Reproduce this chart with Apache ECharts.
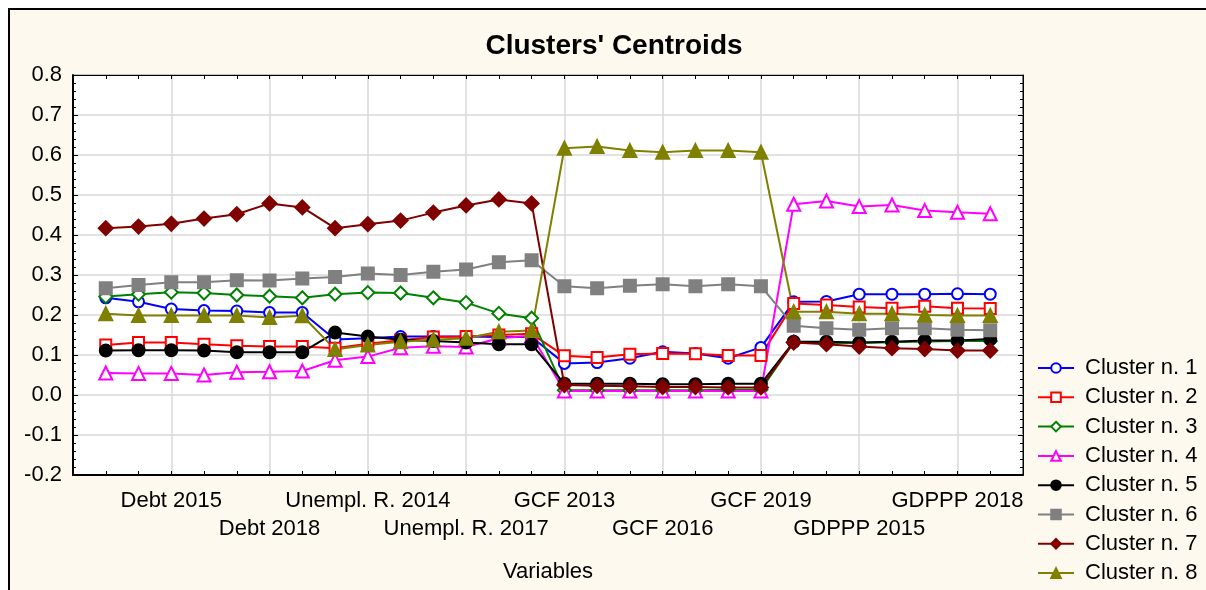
<!DOCTYPE html>
<html>
<head>
<meta charset="utf-8">
<script src="https://cdn.jsdelivr.net/npm/echarts@6/dist/echarts.min.js"></script>
<style>
  html, body { margin: 0; padding: 0; background: #fff; }
  #chart { width: 1206px; height: 590px; }
</style>
</head>
<body>
<div id="chart"></div>
<script>
  const VARIABLES = [
    'Debt 2013', 'Debt 2014', 'Debt 2015', 'Debt 2016', 'Debt 2017', 'Debt 2018', 'Debt 2019',
    'Unempl. R. 2013', 'Unempl. R. 2014', 'Unempl. R. 2015', 'Unempl. R. 2016', 'Unempl. R. 2017', 'Unempl. R. 2018', 'Unempl. R. 2019',
    'GCF 2013', 'GCF 2014', 'GCF 2015', 'GCF 2016', 'GCF 2017', 'GCF 2018', 'GCF 2019',
    'GDPPP 2013', 'GDPPP 2014', 'GDPPP 2015', 'GDPPP 2016', 'GDPPP 2017', 'GDPPP 2018', 'GDPPP 2019'
  ]
  const CLUSTER_NAMES = ['Cluster n. 1', 'Cluster n. 2', 'Cluster n. 3', 'Cluster n. 4',
    'Cluster n. 5', 'Cluster n. 6', 'Cluster n. 7', 'Cluster n. 8']

  const C1 = [0.243, 0.233, 0.215, 0.211, 0.21, 0.206, 0.206, 0.139, 0.142, 0.146, 0.146, 0.146, 0.145, 0.145,
    0.079, 0.081, 0.092, 0.108, 0.104, 0.092, 0.119, 0.233, 0.234, 0.252, 0.252, 0.252, 0.253, 0.252]
  const C2 = [0.125, 0.131, 0.131, 0.127, 0.123, 0.121, 0.121, 0.117, 0.128, 0.137, 0.145, 0.146, 0.15, 0.153,
    0.098, 0.094, 0.102, 0.104, 0.103, 0.099, 0.099, 0.229, 0.225, 0.22, 0.217, 0.222, 0.217, 0.216]
  const C3 = [0.246, 0.252, 0.257, 0.255, 0.25, 0.247, 0.243, 0.252, 0.256, 0.255, 0.243, 0.231, 0.204, 0.192,
    0.012, 0.012, 0.012, 0.012, 0.012, 0.013, 0.013, 0.132, 0.13, 0.13, 0.132, 0.134, 0.135, 0.135]
  const C4 = [0.055, 0.054, 0.054, 0.05, 0.057, 0.058, 0.06, 0.087, 0.096, 0.118, 0.122, 0.12, 0.142, 0.148,
    0.01, 0.01, 0.01, 0.01, 0.01, 0.01, 0.01, 0.477, 0.485, 0.471, 0.475, 0.461, 0.457, 0.453]
  const C5 = [0.111, 0.112, 0.112, 0.111, 0.107, 0.107, 0.107, 0.156, 0.146, 0.138, 0.135, 0.131, 0.127, 0.127,
    0.028, 0.028, 0.028, 0.027, 0.027, 0.028, 0.028, 0.133, 0.133, 0.131, 0.133, 0.136, 0.136, 0.14]
  const C6 = [0.267, 0.275, 0.282, 0.282, 0.287, 0.286, 0.291, 0.295, 0.304, 0.3, 0.308, 0.314, 0.332, 0.337,
    0.272, 0.267, 0.273, 0.277, 0.272, 0.277, 0.272, 0.173, 0.167, 0.163, 0.167, 0.167, 0.163, 0.162]
  const C7 = [0.417, 0.421, 0.428, 0.441, 0.452, 0.479, 0.469, 0.417, 0.427, 0.436, 0.456, 0.474, 0.489, 0.479,
    0.025, 0.023, 0.022, 0.02, 0.02, 0.019, 0.019, 0.131, 0.127, 0.121, 0.117, 0.115, 0.111, 0.111]
  const C8 = [0.203, 0.199, 0.199, 0.199, 0.199, 0.194, 0.198, 0.114, 0.125, 0.133, 0.138, 0.142, 0.158, 0.161,
    0.617, 0.621, 0.611, 0.607, 0.611, 0.611, 0.607, 0.208, 0.208, 0.203, 0.203, 0.2, 0.199, 0.199]

  const CLUSTERS = [C1, C2, C3, C4, C5, C6, C7, C8]
  const COLORS = ['#0000ff', '#ff0000', '#008000', '#ff00ff', '#000000', '#808080', '#800000', '#808000']
  const SYMBOLS = ['emptyCircle', 'emptyRect', 'emptyDiamond', 'emptyTriangle', 'circle', 'rect', 'diamond', 'triangle']
  const SIZES = [11, 11, 13, 13, 12, 12, 14, 13]

  // blank categories at both ends give the padding seen on the plot
  const AXIS_CATS = [''].concat(VARIABLES, [' '])
  const isLabeled = (idx) => idx >= 1 && idx <= VARIABLES.length && (idx - 1) % 3 === 2
  // labels alternate between two rows
  const isRow1 = (idx) => isLabeled(idx) && ((idx - 3) / 3) % 2 === 0
  const isRow2 = (idx) => isLabeled(idx) && ((idx - 3) / 3) % 2 === 1
  const FONT = 'Arial, "Liberation Sans", sans-serif'

  const series = CLUSTERS.map((vals, k) => ({
    name: CLUSTER_NAMES[k],
    type: 'line',
    xAxisIndex: 0,
    yAxisIndex: 0,
    data: vals.map((v, i) => [VARIABLES[i], v]),
    symbol: SYMBOLS[k],
    symbolSize: SIZES[k],
    showAllSymbol: true,
    color: COLORS[k],
    itemStyle: { color: COLORS[k], borderColor: COLORS[k], borderWidth: 2 },
    lineStyle: { color: COLORS[k], width: 2 },
    emphasis: { disabled: true },
    animation: false
  }))

  const labelStyle = { fontFamily: FONT, fontSize: 22, color: '#000' }

  const chart = echarts.init(document.getElementById('chart'))
  chart.setOption({
    backgroundColor: '#ffffff',
    animation: false,
    graphic: {
      elements: [{
        type: 'rect',
        z: -100,
        shape: { x: 9, y: 9, width: 1260, height: 640 },
        style: { fill: '#fdf9ee', stroke: '#000', lineWidth: 2 }
      }]
    },
    title: {
      text: "Clusters' Centroids",
      left: 609,
      textAlign: 'center',
      top: 27,
      textStyle: { fontFamily: FONT, fontSize: 28, fontWeight: 'bold', color: '#000' }
    },
    legend: {
      orient: 'vertical',
      left: 1037,
      top: 357,
      height: 260,
      padding: 0,
      itemWidth: 36,
      itemHeight: 12,
      itemGap: 7.3,
      textStyle: { fontFamily: FONT, fontSize: 22, color: '#000', lineHeight: 22, padding: [0, 0, 0, 6] },
      data: CLUSTER_NAMES
    },
    grid: {
      left: 73, right: 183, top: 75, bottom: 115,
      show: true,
      backgroundColor: '#ffffff',
      borderColor: '#000',
      borderWidth: 1
    },
    xAxis: [{
      type: 'category',
      data: AXIS_CATS,
      boundaryGap: false,
      position: 'bottom',
      name: 'Variables',
      nameLocation: 'middle',
      nameGap: 86,
      nameTextStyle: labelStyle,
      axisLine: { show: true, onZero: false, lineStyle: { color: '#000', width: 2 } },
      axisTick: { show: true, inside: true, length: 4, interval: 0, lineStyle: { color: '#000' } },
      axisLabel: Object.assign({ interval: (idx) => isRow1(idx), margin: 15 }, labelStyle),
      splitLine: { show: true, interval: (idx) => isLabeled(idx), lineStyle: { color: '#d9d9d9', width: 1.5 } }
    }, {
      type: 'category',
      data: AXIS_CATS,
      boundaryGap: false,
      position: 'top',
      axisLine: { show: true, onZero: false, lineStyle: { color: '#000', width: 1 } },
      axisTick: { show: true, inside: true, length: 4, interval: 0, lineStyle: { color: '#000' } },
      axisLabel: { show: false },
      splitLine: { show: false }
    }, {
      type: 'category',
      data: AXIS_CATS,
      boundaryGap: false,
      position: 'bottom',
      offset: 28,
      axisLine: { show: false, onZero: false },
      axisTick: { show: false },
      axisLabel: Object.assign({ interval: (idx) => isRow2(idx), margin: 15 }, labelStyle),
      splitLine: { show: false }
    }],
    yAxis: [{
      type: 'value',
      min: -0.2,
      max: 0.8,
      interval: 0.1,
      axisLine: { show: true, onZero: false, lineStyle: { color: '#000', width: 2 } },
      axisTick: { show: true, inside: true, length: 5, lineStyle: { color: '#000' } },
      minorTick: { show: true, splitNumber: 5, length: 3, lineStyle: { color: '#000' } },
      axisLabel: Object.assign({ margin: 11, formatter: (v) => v.toFixed(1) }, labelStyle),
      splitLine: { show: true, lineStyle: { color: '#d9d9d9', width: 1.5 } }
    }, {
      type: 'value',
      min: -0.2,
      max: 0.8,
      interval: 0.1,
      position: 'right',
      axisLine: { show: true, onZero: false, lineStyle: { color: '#000', width: 1 } },
      axisTick: { show: true, inside: true, length: 5, lineStyle: { color: '#000' } },
      minorTick: { show: true, splitNumber: 5, length: 3, lineStyle: { color: '#000' } },
      axisLabel: { show: false },
      splitLine: { show: false }
    }],
    series: series
  })
</script>
</body>
</html>
